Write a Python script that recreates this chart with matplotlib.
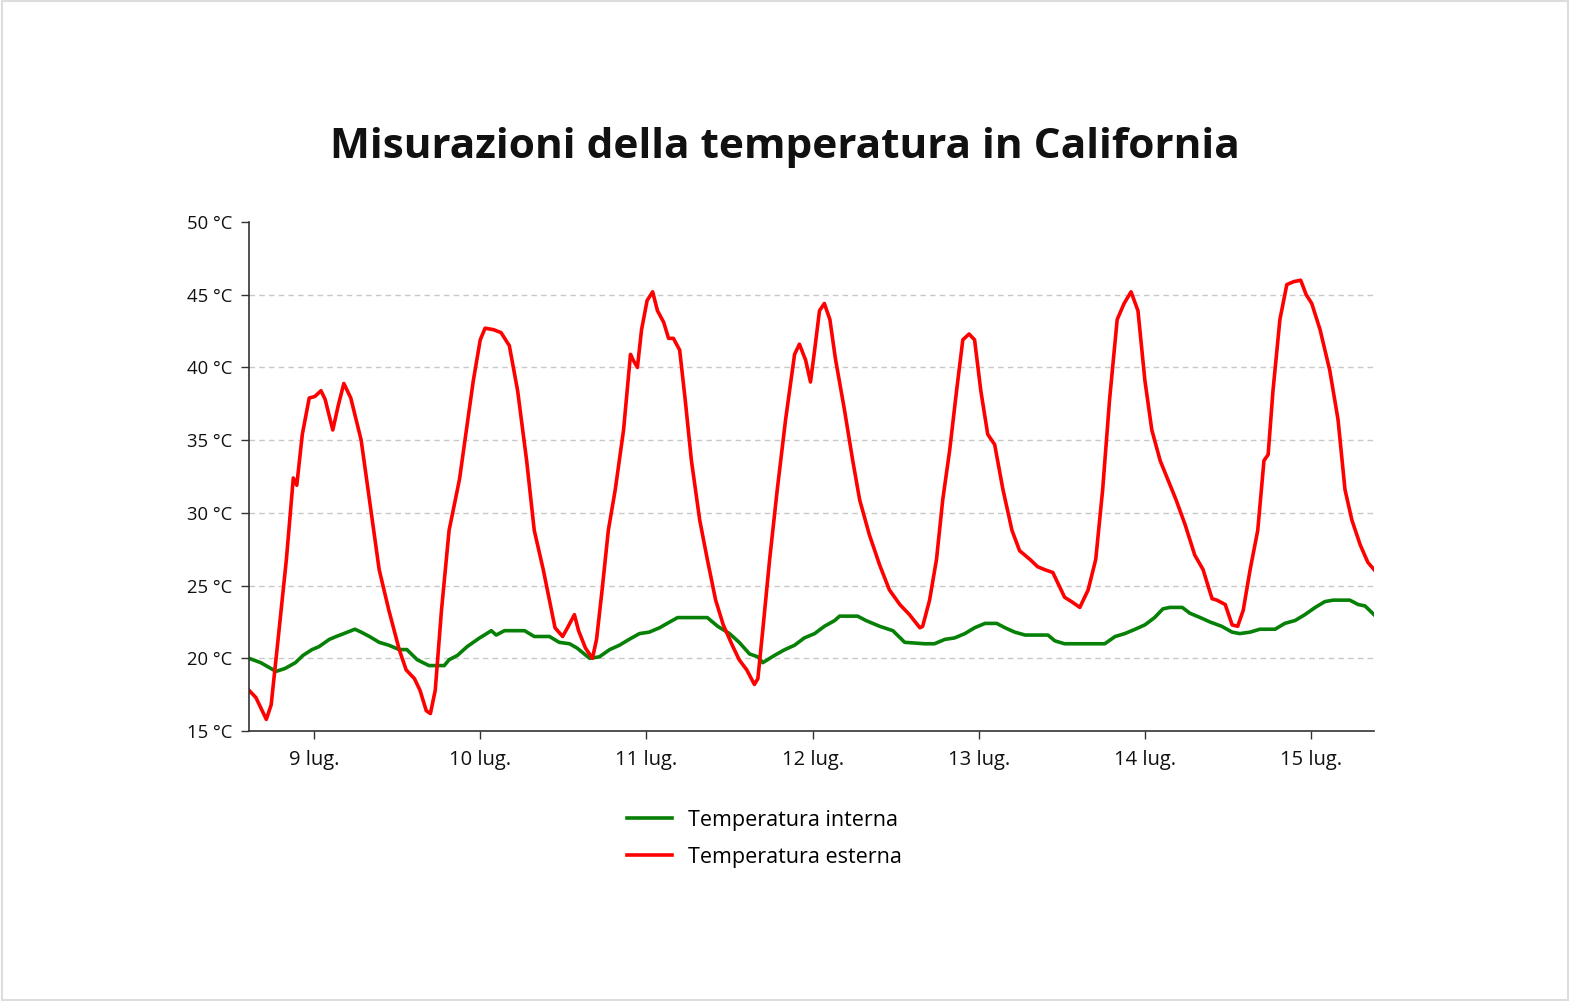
import matplotlib
matplotlib.use('Agg')
import matplotlib.pyplot as plt
from matplotlib.patches import Rectangle

plt.rcParams['font.family'] = ['Open Sans', 'DejaVu Sans']

# hours from 9 lug. 00:00
ext_hours = [-9.4, -8.4, -6.9, -6.2, -5.2, -4.0, -3.0, -2.5, -1.7, -0.7, 0.1, 1.0, 1.6, 2.7, 3.5,
             4.3, 5.3, 6.8, 8.2, 9.4, 10.8, 12.3, 13.3, 14.5, 15.3, 16.2, 16.8, 17.5, 18.4, 19.5,
             21.0, 22.0, 23.0, 24.0, 24.7, 25.9, 27.0, 28.2, 29.4, 30.7, 31.8, 33.1, 34.0, 34.8,
             35.9, 36.6, 37.6, 38.2, 39.2, 40.2, 40.8, 41.6, 42.5, 43.5, 44.7, 45.7, 46.1, 46.7,
             47.3, 48.1, 48.9, 49.6, 50.5, 51.2, 51.9, 52.8, 53.6, 54.5, 55.7, 56.8, 58.0, 59.1,
             60.4, 61.4, 62.5, 63.6, 64.1, 64.8, 65.8, 66.9, 68.1, 69.4, 70.1, 71.0, 71.7, 72.3,
             73.0, 73.7, 74.5, 75.3, 76.6, 77.8, 78.8, 80.2, 81.7, 83.1, 84.6, 86.0, 87.5, 87.9,
             88.9, 89.9, 90.8, 91.8, 92.8, 93.7, 94.6, 95.4, 96.3, 97.3, 98.3, 99.5, 100.8, 101.9,
             103.4, 104.5, 105.5, 106.7, 107.4, 108.4, 109.4, 110.6, 111.8, 112.9, 113.9, 114.9,
             116.0, 117.0, 118.0, 119.0, 120.0, 121.0, 122.2, 123.3, 124.5, 125.8, 127.2, 128.4,
             129.7, 130.4, 131.6, 132.6, 133.4, 134.2, 135.2, 136.3, 137.2, 137.8, 138.5, 139.5,
             140.5, 141.5, 142.5, 143.3, 144.1, 145.3, 146.7, 147.9, 148.9, 149.9, 151.1, 152.2,
             153.1]
ext_temp = [17.8, 17.3, 15.8, 16.8, 21.3, 26.8, 32.4, 31.9, 35.4, 37.9, 38.0, 38.4, 37.8, 35.7, 37.4,
            38.9, 37.9, 35.0, 30.2, 26.1, 23.3, 20.6, 19.2, 18.6, 17.8, 16.4, 16.2, 17.8, 23.3, 28.8,
            32.3, 35.7, 39.1, 41.9, 42.7, 42.6, 42.4, 41.5, 38.4, 33.6, 28.8, 26.1, 24.0, 22.1,
            21.5, 22.1, 23.0, 21.9, 20.7, 20.0, 21.3, 24.7, 28.8, 31.6, 35.7, 40.9, 40.5, 40.0,
            42.6, 44.6, 45.2, 43.9, 43.1, 42.0, 42.0, 41.2, 37.8, 33.6, 29.5, 26.8, 24.0, 22.3,
            20.9, 19.9, 19.2, 18.2, 18.6, 21.9, 26.8, 31.6, 36.4, 40.9, 41.6, 40.5, 39.0, 41.2,
            43.9, 44.4, 43.3, 40.6, 37.1, 33.6, 30.9, 28.5, 26.4, 24.7, 23.7, 23.0, 22.1, 22.2,
            24.0, 26.8, 30.9, 34.3, 38.4, 41.9, 42.3, 41.9, 38.4, 35.4, 34.7, 31.6, 28.8, 27.4,
            26.8, 26.3, 26.1, 25.9, 25.2, 24.2, 23.9, 23.5, 24.7, 26.8, 31.6, 37.8,
            43.3, 44.4, 45.2, 43.9, 39.1, 35.7, 33.6, 32.3, 30.9, 29.2, 27.1, 26.1,
            24.1, 24.0, 23.7, 22.3, 22.2, 23.3, 26.1, 28.8, 33.6, 34.0, 38.4, 43.3,
            45.7, 45.9, 46.0, 45.0, 44.4, 42.6, 39.8, 36.4, 31.6, 29.5, 27.8, 26.6,
            26.1]

int_hours = [-9.4, -7.7, -5.5, -4.2, -2.7, -1.6, -0.3, 0.7, 2.2, 3.2, 4.3, 5.9, 6.8, 8.0, 9.4, 10.8,
             12.3, 13.4, 14.9, 16.6, 18.8, 19.5, 20.7, 22.1, 23.9, 24.6, 25.6, 26.3, 27.5, 30.4,
             31.8, 34.0, 35.4, 36.9, 38.0, 39.8, 41.2, 42.7, 44.1, 45.5, 47.0, 48.4, 49.9, 51.0,
             52.5, 56.8, 58.3, 60.0, 61.4, 62.9, 64.1, 64.8, 66.5, 68.0, 69.4, 70.8, 72.3, 73.7,
             75.2, 75.9, 78.5, 79.7, 81.7, 83.6, 85.3, 88.2, 89.6, 91.1, 92.5, 94.0, 95.4, 96.9,
             98.6, 99.8, 101.2, 102.7, 106.0, 107.0, 108.4, 114.2, 115.7, 117.1, 118.6, 120.0,
             121.4, 122.6, 123.6, 125.4, 126.5, 128.0, 129.4, 131.1, 132.6, 133.7, 135.2, 136.6,
             138.8, 140.2, 141.7, 143.1, 144.6, 146.0, 147.2, 149.6, 150.8, 151.8, 153.1]
int_temp = [20.0, 19.7, 19.1, 19.3, 19.7, 20.2, 20.6, 20.8, 21.3, 21.5, 21.7, 22.0, 21.8, 21.5, 21.1, 20.9,
            20.6, 20.6, 19.9, 19.5, 19.5, 19.9, 20.2, 20.8, 21.4, 21.6, 21.9, 21.6, 21.9, 21.9,
            21.5, 21.5, 21.1, 21.0, 20.7, 20.0, 20.1, 20.6, 20.9, 21.3, 21.7, 21.8, 22.1, 22.4,
            22.8, 22.8, 22.2, 21.7, 21.1, 20.3, 20.1, 19.7, 20.2, 20.6, 20.9, 21.4, 21.7, 22.2,
            22.6, 22.9, 22.9, 22.6, 22.2, 21.9, 21.1, 21.0, 21.0, 21.3, 21.4, 21.7, 22.1, 22.4,
            22.4, 22.1, 21.8, 21.6, 21.6, 21.2, 21.0, 21.0, 21.5, 21.7, 22.0, 22.3,
            22.8, 23.4, 23.5, 23.5, 23.1, 22.8, 22.5, 22.2, 21.8, 21.7, 21.8, 22.0,
            22.0, 22.4, 22.6, 23.0, 23.5, 23.9, 24.0, 24.0, 23.7, 23.6, 23.0]

day_ticks = [0, 24, 48, 72, 96, 120, 144]
day_labels = ['9 lug.', '10 lug.', '11 lug.', '12 lug.', '13 lug.', '14 lug.', '15 lug.']
temp_ticks = [15, 20, 25, 30, 35, 40, 45, 50]

fig = plt.figure(figsize=(15.70, 10.01), dpi=100)
fig.patches.append(Rectangle((0.001, 0.001), 0.998, 0.998, transform=fig.transFigure,
                             fill=False, edgecolor='#dddddd', lw=1.5))
ax = fig.add_axes([0.1586, 0.2697, 0.7166, 0.5085])

ax.plot(int_hours, int_temp, color='#078007', lw=2.6, label='Temperatura interna')
ax.plot(ext_hours, ext_temp, color='#ff0000', lw=2.6, label='Temperatura esterna')

for v in temp_ticks[1:-1]:
    ax.axhline(v, color='#c8c8c8', lw=1, ls=(0, (4, 3)), zorder=0)

ax.set_xlim(-9.4, 153.1)
ax.set_ylim(15, 50)
ax.set_xticks(day_ticks)
ax.set_xticklabels(day_labels)
ax.set_yticks(temp_ticks)
ax.set_yticklabels([f'{t} °C' for t in temp_ticks])
ax.tick_params(color='#333333', length=6, width=1, labelcolor='#111111')
ax.tick_params(axis='x', labelsize=14.5, pad=8)
ax.tick_params(axis='y', labelsize=13.3, pad=6)
for s in ['top', 'right']:
    ax.spines[s].set_visible(False)
for s in ['left', 'bottom']:
    ax.spines[s].set_color('#333333')
    ax.spines[s].set_linewidth(1.2)

fig.text(0.5, 0.853, 'Misurazioni della temperatura in California', ha='center', va='center',
         fontsize=30.5, fontweight='bold', color='#111111')

fig.legend(loc='upper left', bbox_to_anchor=(627 / 1570, 1 - 810 / 1001), frameon=False,
           fontsize=15.5, handlelength=2.1, handletextpad=0.75, labelspacing=0.72,
           borderpad=0, borderaxespad=0)

fig.savefig('out.png', dpi=100)
